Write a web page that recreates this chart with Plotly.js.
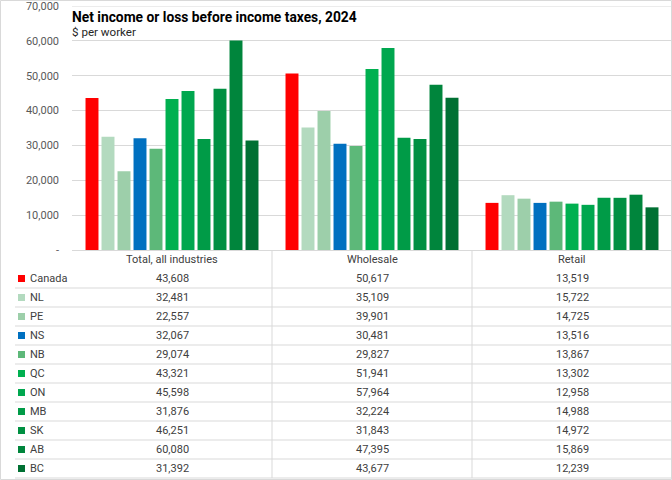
<!DOCTYPE html>
<html><head><meta charset="utf-8">
<script src="https://cdn.plot.ly/plotly-3.0.1.min.js"></script>
<style>html,body{margin:0;padding:0;background:#fff}#chart{width:672px;height:480px}</style>
</head><body><div id="chart"></div>
<script>
const categories = ["Total, all industries", "Wholesale", "Retail"];
const regions = ["Canada","NL","PE","NS","NB","QC","ON","MB","SK","AB","BC"];
const colors = ["#FF0000","#B3DABF","#9DCFAA","#0070C0","#5DB879","#00B050","#00A74F","#009B47","#009042","#00853C","#007033"];
const canada = [43608, 50617, 13519];
const nl = [32481, 35109, 15722];
const pe = [22557, 39901, 14725];
const ns = [32067, 30481, 13516];
const nb = [29074, 29827, 13867];
const qc = [43321, 51941, 13302];
const on = [45598, 57964, 12958];
const mb = [31876, 32224, 14988];
const sk = [46251, 31843, 14972];
const ab = [60080, 47395, 15869];
const bc = [31392, 43677, 12239];
const series = [canada, nl, pe, ns, nb, qc, on, mb, sk, ab, bc];
const yTicks = [0,10000,20000,30000,40000,50000,60000,70000];
const yTickText = yTicks.map(v => v === 0 ? "-" : v.toLocaleString("en-US"));

const FONT = "Roboto, 'Liberation Sans', sans-serif";
const TXT = "#404040";
const LINE = "#D9D9D9";

const L = 72, T = 6, W = 600, H = 244;
const xp = px => (px - L) / W;
const yp = py => (T + H - py) / H;

const traces = regions.map((r, i) => ({
  type: "bar", name: r, x: categories, y: series[i],
  marker: {color: colors[i]}, hoverinfo: "x+y+name"
}));

const shapes = [];
const annotations = [];
// outer border
shapes.push({type:"rect", xref:"paper", yref:"paper", x0:xp(0.5), x1:xp(671.5), y0:yp(0.5), y1:yp(479.5), line:{color:LINE, width:1}});
// top gridline (at the edge of the plot area)
shapes.push({type:"line", xref:"paper", yref:"y", x0:0, x1:1, y0:yTicks[yTicks.length-1], y1:yTicks[yTicks.length-1], line:{color:LINE, width:1}});
// table header
const colCenters = [172, 372, 572];
categories.forEach((c, j) => {
  annotations.push({xref:"paper", yref:"paper", x:xp(colCenters[j]), y:yp(259.5), text:c, showarrow:false, xanchor:"center", yanchor:"middle", font:{family:FONT, size:11, color:TXT}});
});
// vertical lines
[272, 472, 671.5].forEach(px => {
  shapes.push({type:"line", xref:"paper", yref:"paper", x0:xp(px), x1:xp(px), y0:yp(250), y1:yp(478), line:{color:LINE, width:1}});
});
regions.forEach((r, i) => {
  const cy = 278.5 + 19 * i;
  shapes.push({type:"rect", xref:"paper", yref:"paper", x0:xp(18), x1:xp(25), y0:yp(cy-3.5), y1:yp(cy+3.5), fillcolor:colors[i], line:{width:0}});
  annotations.push({xref:"paper", yref:"paper", x:xp(28), y:yp(cy), text:r, showarrow:false, xanchor:"left", yanchor:"middle", font:{family:FONT, size:11, color:TXT}});
  series[i].forEach((v, j) => {
    annotations.push({xref:"paper", yref:"paper", x:xp(colCenters[j]), y:yp(cy), text:v.toLocaleString("en-US"), showarrow:false, xanchor:"center", yanchor:"middle", font:{family:FONT, size:11, color:TXT}});
  });
  const ly = cy + 9.5;
  shapes.push({type:"line", xref:"paper", yref:"paper", x0:xp(15), x1:xp(671.5), y0:yp(ly), y1:yp(ly), line:{color:LINE, width:1}});
});
// title and subtitle
annotations.push({xref:"paper", yref:"paper", x:xp(70), y:yp(17), text:"<b>Net income or loss before income taxes, 2024</b>", showarrow:false, xanchor:"left", yanchor:"middle", font:{family:FONT, size:13.8, color:"#000"}});
annotations.push({xref:"paper", yref:"paper", x:xp(70), y:yp(32), text:"$ per worker", showarrow:false, xanchor:"left", yanchor:"middle", font:{family:FONT, size:11.6, color:"#262626"}});

const layout = {
  width: 672, height: 480,
  margin: {l: L, r: 0, t: T, b: 480 - T - H, pad: 0},
  paper_bgcolor: "#fff", plot_bgcolor: "#fff",
  showlegend: false,
  barmode: "group", bargap: 0.12, bargroupgap: 0.19,
  xaxis: {showticklabels:false, ticks:"", showgrid:false, showline:true, linecolor:LINE, linewidth:1, zeroline:false, fixedrange:true},
  yaxis: {range:[0,70000], tickvals:yTicks, ticktext:yTickText, showgrid:true, gridcolor:LINE, gridwidth:1, zeroline:false, showline:false, ticks:"", ticklabelstandoff:12, ticklabeloverflow:"allow", tickfont:{family:FONT, size:11, color:"#595959"}, fixedrange:true},
  shapes: shapes, annotations: annotations
};
Plotly.newPlot("chart", traces, layout, {displayModeBar:false, staticPlot:true});
</script></body></html>
